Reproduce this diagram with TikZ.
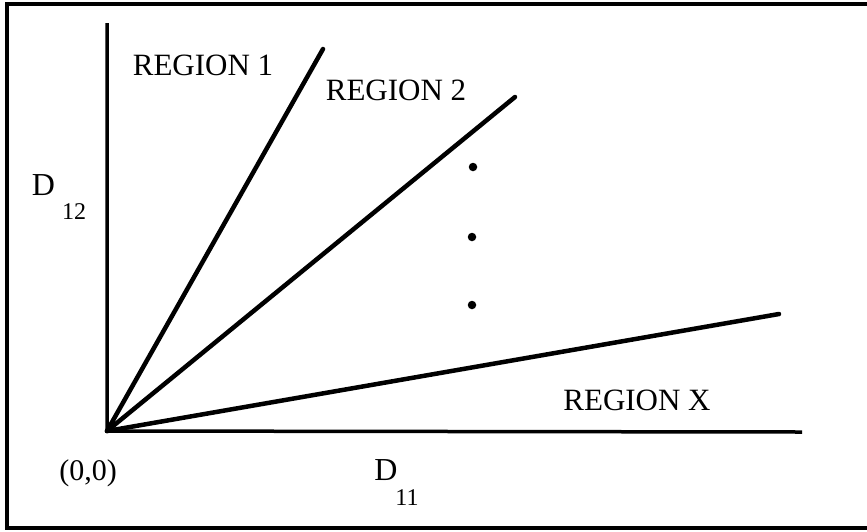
\documentclass[tikz,border=0pt]{standalone}
\usepackage{fontspec}
\setmainfont{Liberation Serif}
\begin{document}
\begin{tikzpicture}[x=1pt,y=-1pt,
  lbl/.style={inner sep=0pt, anchor=base, font=\fontsize{31}{31}\selectfont},
  dlbl/.style={inner sep=0pt, anchor=base, font=\fontsize{32}{32}\selectfont},
  sublbl/.style={inner sep=0pt, anchor=base, font=\fontsize{24}{24}\selectfont},
  axis/.style={line width=3.5pt},
  ray/.style={line width=4.5pt, line cap=round},
  frameline/.style={line width=3.5pt},
  dotmark/.style={circle, fill=black, inner sep=0pt, minimum size=8.5pt}]
\useasboundingbox (0,0) rectangle (867,531);
% frame (top, left, bottom)
\coordinate (f1) at (867,4);
\coordinate (f2) at (7,4);
\coordinate (f3) at (7,528);
\coordinate (f4) at (867,528);
\draw[frameline] (f1) -- (f2) -- (f3) -- (f4);
% axes
\coordinate (O) at (107,431);
\coordinate (ytop) at (107,23);
\coordinate (xend) at (802,432);
\draw[axis] (ytop) -- (O) -- (xend);
% rays
\coordinate (r1) at (323,49);
\coordinate (r2) at (515,97);
\coordinate (rx) at (779,314);
\draw[ray] (O) -- (r1);
\draw[ray] (O) -- (r2);
\draw[ray] (O) -- (rx);
% dots
\node[dotmark] (d1) at (473,167) {};
\node[dotmark] (d2) at (472,237) {};
\node[dotmark] (d3) at (472,305) {};
% labels
\node[lbl] (reg1) at (203,75) {REGION 1};
\node[lbl] (reg2) at (396,100) {REGION 2};
\node[lbl] (regx) at (637,410) {REGION X};
\node[dlbl] (d12) at (43.5,195) {D};
\node[sublbl] (s12) at (74,219) {12};
\node[dlbl] (d11) at (386,480) {D};
\node[sublbl] (s11) at (407,505) {11};
\node[inner sep=0pt, font=\fontsize{30}{30}\selectfont] (orig) at (88,473) {(0,0)};
\end{tikzpicture}
\end{document}
